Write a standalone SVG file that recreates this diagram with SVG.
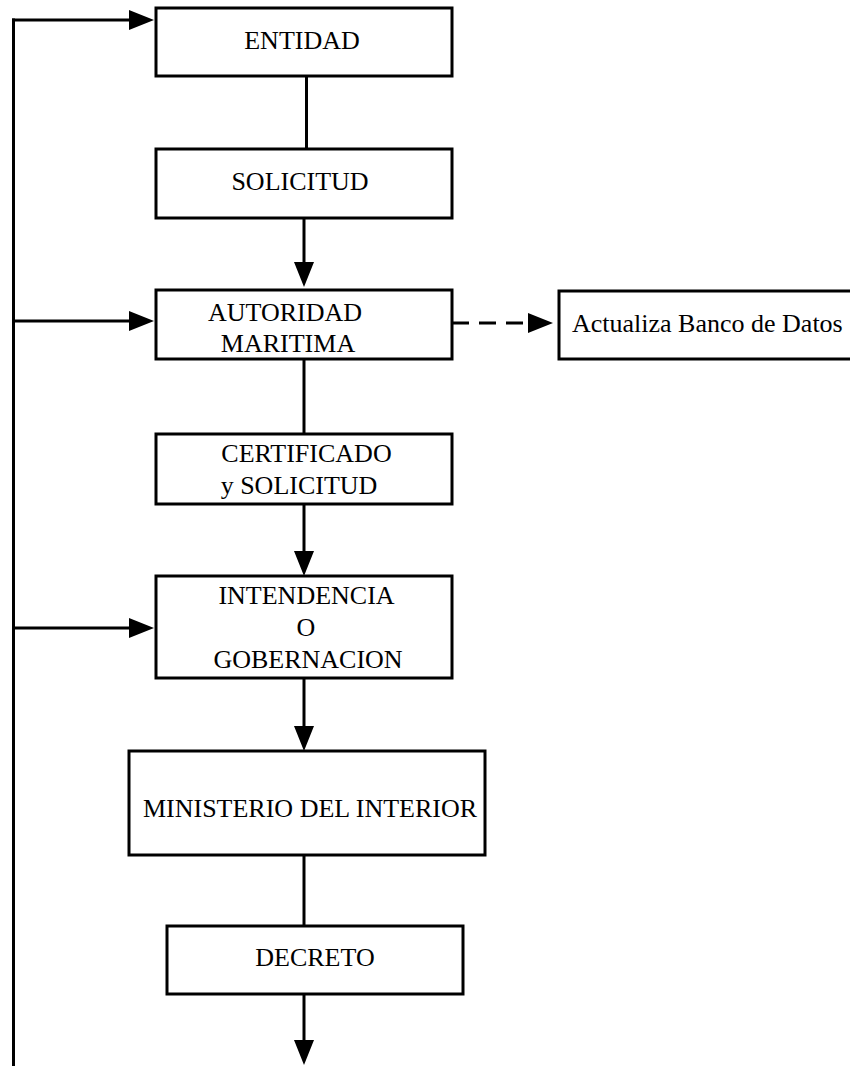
<svg xmlns="http://www.w3.org/2000/svg" width="850" height="1066" viewBox="0 0 850 1066">
  <style>
    .box { fill: #ffffff; stroke: #000000; stroke-width: 3; }
    .lbl { font-family: "Liberation Serif", "Times New Roman", serif; font-size: 26px; fill: #000000; }
    .mid { text-anchor: middle; }
    .conn { stroke: #000000; stroke-width: 3; fill: none; }
    .dash { stroke-dasharray: 17 10; }
  </style>
  <defs>
    <marker id="arrow" markerUnits="userSpaceOnUse" markerWidth="26" markerHeight="22" refX="19" refY="10" orient="auto" overflow="visible">
      <path d="M0,0 L25,10 L0,20 Z" fill="#000000"/>
    </marker>
  </defs>
  <rect width="850" height="1066" fill="#ffffff"/>

  <g id="connectors">
    <line class="conn" x1="13.5" y1="18.5" x2="13.5" y2="1066"/>
    <line class="conn" x1="12" y1="20" x2="148" y2="20" marker-end="url(#arrow)"/>
    <line class="conn" x1="13.5" y1="321" x2="148" y2="321" marker-end="url(#arrow)"/>
    <line class="conn" x1="13.5" y1="628" x2="148" y2="628" marker-end="url(#arrow)"/>
    <line class="conn" x1="306.5" y1="76" x2="306.5" y2="149"/>
    <line class="conn" x1="304" y1="218" x2="304" y2="281" marker-end="url(#arrow)"/>
    <line class="conn" x1="304" y1="359" x2="304" y2="434"/>
    <line class="conn dash" x1="452" y1="323" x2="547" y2="323" marker-end="url(#arrow)"/>
    <line class="conn" x1="304" y1="504" x2="304" y2="570" marker-end="url(#arrow)"/>
    <line class="conn" x1="304" y1="678" x2="304" y2="745" marker-end="url(#arrow)"/>
    <line class="conn" x1="304" y1="855" x2="304" y2="926"/>
    <line class="conn" x1="304" y1="994" x2="304" y2="1059" marker-end="url(#arrow)"/>
  </g>

  <g id="entidad">
    <rect class="box" x="156" y="8" width="296" height="68"/>
    <text class="lbl mid" x="302" y="49">ENTIDAD</text>
  </g>
  <g id="solicitud">
    <rect class="box" x="156" y="149" width="296" height="69"/>
    <text class="lbl mid" x="300" y="190">SOLICITUD</text>
  </g>
  <g id="autoridad">
    <rect class="box" x="156" y="290" width="296" height="69"/>
    <text class="lbl mid" x="285" y="321">AUTORIDAD</text>
    <text class="lbl mid" x="288" y="352">MARITIMA</text>
  </g>
  <g id="actualiza">
    <rect class="box" x="559" y="291" width="300" height="68"/>
    <text class="lbl" x="572" y="332">Actualiza Banco de Datos</text>
  </g>
  <g id="certificado">
    <rect class="box" x="156" y="434" width="296" height="70"/>
    <text class="lbl mid" x="306.5" y="462">CERTIFICADO</text>
    <text class="lbl mid" x="299" y="494">y SOLICITUD</text>
  </g>
  <g id="intendencia">
    <rect class="box" x="156" y="576" width="296" height="102"/>
    <text class="lbl mid" x="306.5" y="604">INTENDENCIA</text>
    <text class="lbl mid" x="306" y="636">O</text>
    <text class="lbl mid" x="308" y="668">GOBERNACION</text>
  </g>
  <g id="ministerio">
    <rect class="box" x="129" y="751" width="356" height="104"/>
    <text class="lbl mid" x="310" y="817">MINISTERIO DEL INTERIOR</text>
  </g>
  <g id="decreto">
    <rect class="box" x="167" y="926" width="296" height="68"/>
    <text class="lbl mid" x="315" y="966">DECRETO</text>
  </g>
</svg>
